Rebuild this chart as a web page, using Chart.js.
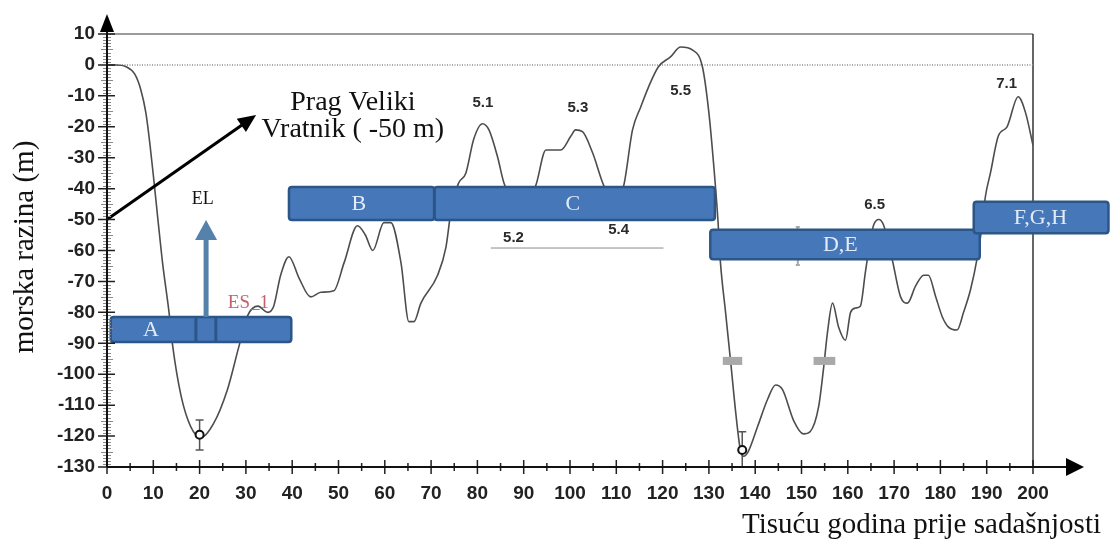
<!DOCTYPE html>
<html><head><meta charset="utf-8">
<script src="https://cdn.jsdelivr.net/npm/chart.js@4.4.1/dist/chart.umd.min.js"></script>
<style>html,body{margin:0;padding:0;background:#fff;overflow:hidden}canvas{display:block}</style>
</head><body>
<canvas id="c" width="1110" height="545"></canvas>
<script>
// ---- data ----
const ageKyr = [0,2,4,6,7.3,8.4,9.3,10.1,11,12,13.4,14.2,16,18.1,20.3,23,26,28.5,30.4,32.6,34.7,36,37.5,39.3,41.5,44,46.2,49,51.2,54.1,55.8,57.4,59.8,61.3,63.5,65.2,66.3,67.8,71.4,73.2,74.5,76,77.5,79.2,81.1,82.5,84.4,85.7,88,90.5,92.6,94.8,95.8,98,100.2,101.2,102.7,104.9,107.3,109.5,111.6,113.5,115.3,117,119.1,121.7,123.9,126.5,128.6,130,131,131.9,132.5,133.6,134.7,135.8,136.8,137.5,138.5,140.5,142.7,144.4,145.9,148.3,150.4,151.9,153.7,154.8,155.6,156.7,158,159.5,160.6,161.7,162.7,163.8,164.7,165.6,166.7,167.7,169.6,171.4,172.9,174.6,176.4,177.4,179,180.4,181.7,183.6,185,186.5,188,189,189.7,190.8,192.5,194.4,196.8,198.4,200];
const seaLevel = [0,0,-0.5,-3,-8,-15.5,-26,-37,-50,-64,-80,-91,-107,-117,-120.5,-116,-105,-91,-81,-78,-80,-78,-68,-62,-69,-75,-73.5,-73,-64,-52,-55,-60,-51,-51,-64,-83,-83,-77,-68,-59,-45,-38,-35,-24,-19,-21,-30,-38,-44,-44,-39,-27.5,-27.5,-27.5,-23,-21,-21.6,-28.5,-39,-44,-39,-21,-13.5,-7,-0.6,2.6,5.8,4.8,-0.6,-15.5,-31.7,-49,-64,-80,-96,-112.5,-124.5,-126.5,-125,-117,-108,-103.5,-105,-115,-119.3,-118.5,-110.5,-97.6,-86.6,-77,-84.7,-89,-80,-78.6,-78,-67,-58,-51.7,-50,-51.7,-63,-75,-77,-71.6,-68,-68,-75,-81.4,-84.7,-85.7,-80,-72.7,-62,-52,-42.7,-35,-23,-20,-10.3,-15.5,-26];
const xTickValues = [0,10,20,30,40,50,60,70,80,90,100,110,120,130,140,150,160,170,180,190,200];
const yTickValues = [10,0,-10,-20,-30,-40,-50,-60,-70,-80,-90,-100,-110,-120,-130];

const barNames  = ['A','B','C','D,E','F,G,H'];
const barStart  = [0.8, 39.3, 70.7, 130.3, 187.2];
const barEnd    = [39.8, 70.7, 131.3, 188.5, 216.3];
const barTop    = [-81.5, -39.5, -39.5, -53.3, -44.2];
const barBottom = [-89.6, -50.1, -50.1, -62.8, -54.4];
const barLabelX = [9.5, 54.4, 100.6, 158.4, 201.6];
const barDividers = [19.2, 23.5];

const peakNames = ['5.1','5.2','5.3','5.4','5.5','6.5','7.1'];
const peakX = [81.2, 87.8, 101.7, 110.5, 123.9, 165.8, 194.3];
const peakY = [-12.3, -55.9, -13.9, -53.3, -8.4, -45.3, -6.1];

const datedAge = [20, 137.2];
const datedLevel = [-119.6, -124.5];
const datedErrHigh = [-114.8, -118.6];
const datedErrLow = [-124.5, -130];

const greyBoxStart = [133, 152.6];
const greyBoxEnd = [137.2, 157.3];
const greyBoxTop = [-94.4, -94.4];
const greyBoxBottom = [-97, -97];

const yLabel = 'morska razina (m)';
const xLabel = 'Tisuću godina prije sadašnjosti';
const sillText = ['Prag Veliki', 'Vratnik ( -50 m)'];
const sillArrow = [[0, -50], [32.2, -16.2]];
const elArrow = [[21.4, -81.5], [21.4, -50.1]];

// ---- drawing ----
function arrowHead(ctx, x0, y0, x1, y1, len, half, color) {
  const a = Math.atan2(y1 - y0, x1 - x0);
  ctx.save();
  ctx.fillStyle = color;
  ctx.beginPath();
  ctx.moveTo(x1, y1);
  ctx.lineTo(x1 - len * Math.cos(a) + half * Math.sin(a), y1 - len * Math.sin(a) - half * Math.cos(a));
  ctx.lineTo(x1 - len * Math.cos(a) - half * Math.sin(a), y1 - len * Math.sin(a) + half * Math.cos(a));
  ctx.closePath();
  ctx.fill();
  ctx.restore();
}
function rrect(ctx, x, y, w, h, r) {
  ctx.beginPath();
  ctx.moveTo(x + r, y);
  ctx.lineTo(x + w - r, y); ctx.quadraticCurveTo(x + w, y, x + w, y + r);
  ctx.lineTo(x + w, y + h - r); ctx.quadraticCurveTo(x + w, y + h, x + w - r, y + h);
  ctx.lineTo(x + r, y + h); ctx.quadraticCurveTo(x, y + h, x, y + h - r);
  ctx.lineTo(x, y + r); ctx.quadraticCurveTo(x, y, x + r, y);
  ctx.closePath();
}

const decor = {
  id: 'decor',
  beforeDatasetsDraw(chart) {
    const ctx = chart.ctx, X = chart.scales.x, Y = chart.scales.y;
    const L = X.getPixelForValue(0), R = X.getPixelForValue(200);
    const T = Y.getPixelForValue(10), B = Y.getPixelForValue(-130);
    ctx.save();
    ctx.strokeStyle = '#7a7a7a'; ctx.lineWidth = 1.5;
    ctx.beginPath(); ctx.moveTo(L, T); ctx.lineTo(R, T); ctx.stroke();
    ctx.strokeStyle = '#333'; ctx.lineWidth = 1.5;
    ctx.beginPath(); ctx.moveTo(R, T); ctx.lineTo(R, B); ctx.stroke();
    ctx.strokeStyle = '#8a8a8a'; ctx.lineWidth = 1.5; ctx.setLineDash([1, 1.5]);
    const z = Y.getPixelForValue(0);
    ctx.beginPath(); ctx.moveTo(L, z); ctx.lineTo(R, z); ctx.stroke();
    ctx.setLineDash([]);
    ctx.restore();
  },
  afterDatasetsDraw(chart) {
    const ctx = chart.ctx, X = chart.scales.x, Y = chart.scales.y;
    const px = v => X.getPixelForValue(v), py = v => Y.getPixelForValue(v);
    ctx.save();
    // grey error mark behind D,E bar
    ctx.strokeStyle = '#a8a8a8'; ctx.lineWidth = 2;
    ctx.beginPath();
    ctx.moveTo(px(149.2), py(-52.4)); ctx.lineTo(px(149.2), py(-64.7));
    ctx.moveTo(px(149.2) - 2, py(-52.4)); ctx.lineTo(px(149.2) + 2, py(-52.4));
    ctx.moveTo(px(149.2) - 2, py(-64.7)); ctx.lineTo(px(149.2) + 2, py(-64.7));
    ctx.stroke();
    // grey boxes
    ctx.fillStyle = '#a9a9a9';
    for (let i = 0; i < greyBoxStart.length; i++) {
      ctx.fillRect(px(greyBoxStart[i]), py(greyBoxTop[i]), px(greyBoxEnd[i]) - px(greyBoxStart[i]), py(greyBoxBottom[i]) - py(greyBoxTop[i]));
    }
    // dated points with error bars
    for (let i = 0; i < datedAge.length; i++) {
      const x = px(datedAge[i]);
      ctx.strokeStyle = '#555'; ctx.lineWidth = 1.5;
      ctx.beginPath();
      ctx.moveTo(x, py(datedErrHigh[i])); ctx.lineTo(x, py(datedErrLow[i]));
      ctx.moveTo(x - 4, py(datedErrHigh[i])); ctx.lineTo(x + 4, py(datedErrHigh[i]));
      ctx.moveTo(x - 4, py(datedErrLow[i])); ctx.lineTo(x + 4, py(datedErrLow[i]));
      ctx.stroke();
      ctx.fillStyle = '#fff'; ctx.strokeStyle = '#111'; ctx.lineWidth = 2;
      ctx.beginPath(); ctx.arc(x, py(datedLevel[i]), 4, 0, Math.PI * 2); ctx.fill(); ctx.stroke();
    }
    // thin line below 5.2 / 5.4
    ctx.strokeStyle = '#8c8c8c'; ctx.lineWidth = 1;
    ctx.beginPath(); ctx.moveTo(px(82.9), py(-59.2)); ctx.lineTo(px(120.2), py(-59.2)); ctx.stroke();
    // stage bars
    for (let i = 0; i < barNames.length; i++) {
      const x0 = px(barStart[i]), x1 = px(barEnd[i]), y0 = py(barTop[i]), y1 = py(barBottom[i]);
      rrect(ctx, x0, y0, x1 - x0, y1 - y0, 3);
      ctx.fillStyle = '#4677b9'; ctx.fill();
      ctx.strokeStyle = '#2b5687'; ctx.lineWidth = 2.5; ctx.stroke();
      ctx.fillStyle = '#e2ecf8';
      ctx.font = '22px "Liberation Serif", "Times New Roman", serif';
      ctx.textAlign = 'center'; ctx.textBaseline = 'middle';
      ctx.fillText(barNames[i], px(barLabelX[i]), (y0 + y1) / 2 + 1);
    }
    ctx.strokeStyle = '#2b5687'; ctx.lineWidth = 3;
    ctx.beginPath();
    for (const d of barDividers) { ctx.moveTo(px(d), py(barTop[0]) + 1); ctx.lineTo(px(d), py(barBottom[0]) - 1); }
    ctx.moveTo(px(barEnd[1]), py(barTop[1]) + 1); ctx.lineTo(px(barEnd[1]), py(barBottom[1]) - 1);
    ctx.stroke();
    // EL arrow
    const ex = px(elArrow[0][0]), ey0 = py(elArrow[0][1]), ey1 = py(elArrow[1][1]);
    ctx.strokeStyle = '#5482ab'; ctx.lineWidth = 5;
    ctx.beginPath(); ctx.moveTo(ex, ey0); ctx.lineTo(ex, ey1 + 14); ctx.stroke();
    arrowHead(ctx, ex, ey0, ex, ey1, 20, 11, '#5482ab');
    // sill arrow
    const sx0 = px(sillArrow[0][0]), sy0 = py(sillArrow[0][1]), sx1 = px(sillArrow[1][0]), sy1 = py(sillArrow[1][1]);
    const ang = Math.atan2(sy1 - sy0, sx1 - sx0);
    ctx.strokeStyle = '#000'; ctx.lineWidth = 3;
    ctx.beginPath(); ctx.moveTo(sx0, sy0); ctx.lineTo(sx1 - 12 * Math.cos(ang), sy1 - 12 * Math.sin(ang)); ctx.stroke();
    arrowHead(ctx, sx0, sy0, sx1, sy1, 18, 8, '#000');
    // texts
    ctx.fillStyle = '#111'; ctx.textAlign = 'center'; ctx.textBaseline = 'alphabetic';
    ctx.font = '28px "Liberation Serif", "Times New Roman", serif';
    ctx.fillText(sillText[0], px(53.1), py(-14.5));
    ctx.fillText(sillText[1], px(53.1), py(-23.3));
    ctx.font = '18px "Liberation Serif", "Times New Roman", serif';
    ctx.fillText('EL', px(20.7), py(-44.9));
    ctx.fillStyle = '#c4626b'; ctx.textAlign = 'left';
    ctx.font = '19px "Liberation Serif", "Times New Roman", serif';
    ctx.fillText('ES_1', px(26.1), py(-78.6));
    ctx.fillStyle = '#2a2a2a'; ctx.textAlign = 'center'; ctx.textBaseline = 'middle';
    ctx.font = 'bold 15px "Liberation Sans", Arial, sans-serif';
    for (let i = 0; i < peakNames.length; i++) ctx.fillText(peakNames[i], px(peakX[i]), py(peakY[i]));
    // axes
    const L = px(0), Bt = py(-130), T = py(10), R = px(200);
    ctx.strokeStyle = '#8a8a8a'; ctx.lineWidth = 1;
    ctx.beginPath();
    for (let v = -130; v <= 10; v++) {
      const yy = Math.round(py(v)) + 0.5;
      if (v % 10 === 0) continue;
      const h = v % 5 === 0 ? 6 : 4;
      ctx.moveTo(L - h, yy); ctx.lineTo(L + h, yy);
    }
    ctx.stroke();
    ctx.strokeStyle = '#222'; ctx.lineWidth = 1.5;
    ctx.beginPath();
    for (const v of yTickValues) { const yy = py(v); ctx.moveTo(L - 9, yy); ctx.lineTo(L + 8, yy); }
    for (const v of xTickValues) { const xx = px(v); ctx.moveTo(xx, Bt - 7); ctx.lineTo(xx, Bt + 7); }
    for (let v = 5; v < 200; v += 10) { const xx = px(v); ctx.moveTo(xx, Bt - 4); ctx.lineTo(xx, Bt + 4); }
    ctx.stroke();
    ctx.strokeStyle = '#111'; ctx.lineWidth = 2;
    ctx.beginPath(); ctx.moveTo(L, Bt); ctx.lineTo(L, T - 14); ctx.stroke();
    arrowHead(ctx, L, Bt, L, T - 20, 18, 7, '#000');
    ctx.beginPath(); ctx.moveTo(L, Bt); ctx.lineTo(R + 36, Bt); ctx.stroke();
    arrowHead(ctx, L, Bt, R + 51, Bt, 18, 9, '#000');
    // axis titles
    ctx.fillStyle = '#111';
    ctx.font = '29px "Liberation Serif", "Times New Roman", serif';
    ctx.textAlign = 'right'; ctx.textBaseline = 'alphabetic';
    ctx.fillText(xLabel, 1101, 533);
    ctx.save();
    ctx.translate(33, 247); ctx.rotate(-Math.PI / 2);
    ctx.textAlign = 'center';
    ctx.fillText(yLabel, 0, 0);
    ctx.restore();
    ctx.restore();
  }
};

new Chart(document.getElementById('c'), {
  type: 'line',
  data: {
    datasets: [{
      data: ageKyr.map((a, i) => ({ x: a, y: seaLevel[i] })),
      borderColor: '#4d4d4d', borderWidth: 1.6, pointRadius: 0,
      cubicInterpolationMode: 'monotone', fill: false
    }]
  },
  options: {
    responsive: false, animation: false, devicePixelRatio: 1,
    layout: { padding: { top: 34, right: 77, left: 0, bottom: 0 } },
    plugins: { legend: { display: false }, tooltip: { enabled: false } },
    scales: {
      x: {
        type: 'linear', min: 0, max: 200,
        afterFit(s) { s.height = 78; },
        afterBuildTicks(s) { s.ticks = xTickValues.map(v => ({ value: v })); },
        ticks: { font: { family: '"Liberation Sans", Arial, sans-serif', size: 19, weight: 'bold' }, color: '#222', padding: 15, maxRotation: 0, autoSkip: false },
        grid: { display: false, drawTicks: false }, border: { display: false }
      },
      y: {
        type: 'linear', min: -130, max: 10,
        afterFit(s) { s.width = 107; },
        afterBuildTicks(s) { s.ticks = yTickValues.map(v => ({ value: v })); },
        ticks: { font: { family: '"Liberation Sans", Arial, sans-serif', size: 19, weight: 'bold' }, color: '#222', padding: 12, autoSkip: false },
        grid: { display: false, drawTicks: false }, border: { display: false }
      }
    }
  },
  plugins: [decor]
});
</script>
</body></html>
